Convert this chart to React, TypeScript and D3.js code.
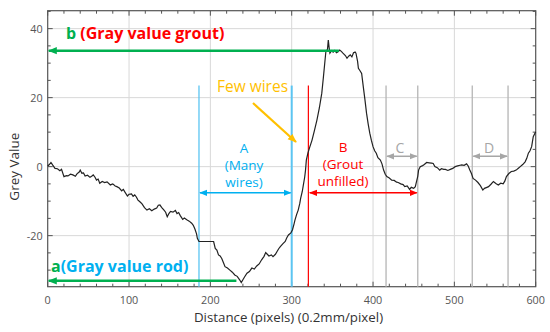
import React from "react";
import * as d3 from "d3";

const profile: [number, number][] = [
  [0,0.2],[2,0.6],[4,1.2],[6,0.5],[9,-0.5],[12,-0.6],[15,-1.2],[17,-0.8],[20,-2.9],[23,-2.6],[25,-2.7],[28,-2.2],[31,-2.4],[34,-2.8],[36,-2.1],[39,-1.5],[40,-1.0],[42,-1.9],[44,-1.8],[46,-2.7],[49,-2.5],[52,-3.1],[54,-2.8],[56,-2.4],[58,-3.0],[60,-3.9],[62,-3.6],[64,-4.8],[67,-4.3],[70,-4.6],[73,-4.4],[77,-5.3],[80,-5.0],[83,-5.6],[85,-5.8],[88,-6.2],[91,-7.0],[93,-6.6],[95,-7.4],[98,-8.5],[100,-8.0],[103,-7.9],[105,-8.6],[107,-8.2],[109,-8.8],[111,-9.7],[113,-10.1],[116,-10.8],[119,-11.9],[122,-12.6],[125,-12.2],[128,-12.8],[131,-12.3],[134,-12.0],[136,-11.2],[138,-11.1],[140,-11.8],[143,-12.6],[145,-13.2],[147,-14.5],[149,-13.6],[151,-13.0],[154,-13.2],[157,-12.7],[159,-13.6],[161,-13.3],[163,-14.2],[166,-15.3],[168,-14.9],[171,-15.4],[174,-15.8],[177,-16.4],[179,-17.0],[181,-18.1],[183,-19.5],[184,-20.8],[186,-21.7],[204,-21.7],[206,-23.7],[208,-24.2],[210,-25.6],[212,-25.9],[214,-26.6],[216,-27.8],[218,-29.0],[221,-29.4],[224,-30.0],[227,-30.6],[230,-31.4],[233,-31.8],[236,-32.8],[238,-33.6],[240,-32.8],[242,-32.0],[245,-30.9],[248,-30.4],[251,-29.4],[254,-29.7],[257,-28.8],[260,-28.2],[263,-27.0],[266,-26.0],[268,-24.9],[270,-25.4],[272,-25.9],[275,-25.6],[277,-26.1],[280,-25.4],[282,-24.6],[284,-23.8],[286,-23.2],[289,-22.4],[292,-21.7],[294,-20.6],[296,-19.8],[299,-19.2],[301,-18.3],[303,-16.5],[304,-15.5],[306,-13.9],[308,-12.6],[310,-10.6],[311,-9.2],[313,-7.2],[314,-5.8],[316,-3.0],[317,-1.0],[318,1.9],[320,4.0],[322,5.5],[325,7.7],[328,10.5],[331,13.5],[334,17.0],[337,21.3],[339,26.0],[341,30.9],[342,33.3],[344,34.0],[345,36.7],[346,34.5],[347,32.9],[349,33.6],[351,33.2],[353,33.7],[355,33.0],[357,33.3],[359,33.8],[361,33.4],[363,32.9],[366,32.2],[368,31.4],[370,32.0],[372,32.4],[374,31.8],[376,33.0],[378,33.2],[379,32.9],[381,30.5],[382,28.5],[384,27.8],[386,27.0],[388,23.2],[390,19.5],[392,15.5],[394,12.4],[396,9.7],[398,7.6],[400,5.8],[402,4.6],[404,3.9],[406,2.6],[409,1.9],[411,0.8],[413,-1.0],[415,-2.2],[417,-2.9],[420,-3.3],[423,-3.9],[426,-4.0],[429,-4.5],[431,-4.6],[434,-5.0],[437,-5.2],[439,-5.8],[442,-5.6],[445,-6.6],[447,-6.0],[450,-6.3],[452,-5.8],[453,-4.8],[455,-2.8],[456,-1.0],[458,0.0],[461,0.3],[463,0.6],[466,1.2],[469,1.1],[472,1.0],[474,0.9],[476,0.0],[479,-0.3],[482,-1.0],[484,-0.6],[487,-0.8],[489,-0.8],[492,-1.1],[495,-0.8],[498,-0.5],[501,0.0],[504,0.2],[507,0.4],[509,0.5],[512,0.4],[515,0.8],[517,0.2],[519,-1.0],[521,-2.0],[523,-3.4],[526,-3.9],[529,-4.6],[532,-5.5],[535,-6.8],[537,-6.3],[540,-6.0],[542,-5.8],[545,-5.1],[548,-4.3],[551,-4.9],[554,-5.3],[557,-4.8],[560,-5.0],[562,-4.2],[564,-2.9],[567,-2.0],[570,-1.4],[573,-1.3],[576,-1.0],[579,-0.4],[581,0.0],[584,0.6],[587,1.4],[589,2.4],[591,3.9],[593,4.6],[595,5.8],[597,8.7],[600,10.1]
];

const xTicks = [0, 100, 200, 300, 400, 500, 600];
const yTicks = [-20, 0, 20, 40];
const xGrid = [100, 200, 300, 400, 500];
const yGrid = [-20, 0, 20, 40];

// region markers (distance values)
const blueLines = [186, 300];
const redLine = 320.5;
const grayLines = [416, 455, 522, 566];
const markerTop = 23.5;

const W = 550, H = 332;
const L = 47.7, R = 535.7, T = 10.7, B = 286.7;

const GREEN = "#00B050";
const RED = "#FF0000";
const BLUE = "#00B0F0";
const ORANGE = "#FFC000";
const GRAY = "#A6A6A6";

export default function App() {
  const x = d3.scaleLinear().domain([0, 600]).range([L, R]);
  const y = d3.scaleLinear().domain([-34.8, 45.2]).range([B, T]);
  const line = d3.line<[number, number]>().x(d => x(d[0])).y(d => y(d[1]));

  const xMinor = d3.range(0, 601, 20);
  const yMinor = d3.range(-30, 46, 5);

  const font = "'Open Sans', sans-serif";
  const afont = "'Open Sans', sans-serif";

  const marker = (id: string, color: string, size = 7) => (
    <marker id={id} viewBox="0 0 10 10" refX="9" refY="5" markerWidth={size} markerHeight={size}
      markerUnits="userSpaceOnUse" orient="auto-start-reverse">
      <path d="M0,1 L10,5 L0,9 Z" fill={color} />
    </marker>
  );

  return (
    <svg width={W} height={H} style={{ position: "absolute", left: 0, top: 0, background: "#fff" }}>
      <defs>
        {marker("mg", GREEN, 9)}
        {marker("mb", BLUE, 8)}
        {marker("mr", RED, 8)}
        {marker("mgr", GRAY, 8)}
        {marker("mo", ORANGE, 9)}
      </defs>
      {/* grid */}
      {xGrid.map(v => (
        <line key={"gx" + v} x1={x(v)} x2={x(v)} y1={T} y2={B} stroke="#d8d8d8" strokeWidth={1} />
      ))}
      {yGrid.map(v => (
        <line key={"gy" + v} x1={L} x2={R} y1={y(v)} y2={y(v)} stroke="#d8d8d8" strokeWidth={1} />
      ))}
      {/* ticks */}
      {xMinor.map(v => {
        const len = v % 100 === 0 ? 5 : 3;
        return (
          <g key={"tx" + v}>
            <line x1={x(v)} x2={x(v)} y1={B} y2={B - len} stroke="#555" />
            <line x1={x(v)} x2={x(v)} y1={T} y2={T + len} stroke="#555" />
          </g>
        );
      })}
      {yMinor.map(v => {
        const len = v % 20 === 0 ? 5 : 3;
        return (
          <g key={"ty" + v}>
            <line x1={L} x2={L + len} y1={y(v)} y2={y(v)} stroke="#555" />
            <line x1={R} x2={R - len} y1={y(v)} y2={y(v)} stroke="#555" />
          </g>
        );
      })}
      <rect x={L} y={T} width={R - L} height={B - T} fill="none" stroke="#555" strokeWidth={1.2} />
      {/* tick labels */}
      {xTicks.map(v => (
        <text key={"lx" + v} x={x(v)} y={B + 17} textAnchor="middle" fontFamily={font} fontSize={10.8} fill="#555">{v}</text>
      ))}
      {yTicks.map(v => (
        <text key={"ly" + v} x={L - 5} y={y(v) + 4} textAnchor="end" fontFamily={font} fontSize={10.8} fill="#555">{v}</text>
      ))}
      <text x={288.5} y={322} textAnchor="middle" fontFamily={font} fontSize={13.3} fill="#333">Distance (pixels) (0.2mm/pixel)</text>
      <text transform={`translate(19,${y(0)}) rotate(-90)`} textAnchor="middle" fontFamily={font} fontSize={13.5} fill="#333">Grey Value</text>

      {/* marker lines */}
      <line x1={x(blueLines[0])} x2={x(blueLines[0])} y1={y(markerTop)} y2={B} stroke="#5BC5F2" strokeWidth={1.3} />
      <line x1={x(blueLines[1])} x2={x(blueLines[1])} y1={y(markerTop)} y2={B} stroke="#5BC5F2" strokeWidth={2} />
      <line x1={x(redLine)} x2={x(redLine)} y1={y(markerTop)} y2={B} stroke={RED} strokeWidth={1.2} />
      {grayLines.map(v => (
        <line key={"gl" + v} x1={x(v)} x2={x(v)} y1={y(markerTop)} y2={B} stroke="#b5b5b5" strokeWidth={1.3} />
      ))}

      {/* profile */}
      <path d={line(profile) || ""} fill="none" stroke="#222" strokeWidth={1.2} />

      {/* green arrows */}
      <line x1={x(358)} x2={x(0) + 1} y1={y(33.6)} y2={y(33.6)} stroke={GREEN} strokeWidth={2.5} markerEnd="url(#mg)" />
      <line x1={x(232)} x2={x(0) + 1} y1={y(-33.1)} y2={y(-33.1)} stroke={GREEN} strokeWidth={2.5} markerEnd="url(#mg)" />

      {/* region arrows */}
      <line x1={x(186) + 1} x2={x(300) - 1} y1={y(-7.6)} y2={y(-7.6)} stroke={BLUE} strokeWidth={1.5} markerStart="url(#mb)" markerEnd="url(#mb)" />
      <line x1={x(321) + 1} x2={x(455) - 1} y1={y(-7.6)} y2={y(-7.6)} stroke={RED} strokeWidth={1.5} markerStart="url(#mr)" markerEnd="url(#mr)" />
      <line x1={x(416) + 1} x2={x(455) - 1} y1={y(3)} y2={y(3)} stroke={GRAY} strokeWidth={1.5} markerStart="url(#mgr)" markerEnd="url(#mgr)" />
      <line x1={x(522) + 1} x2={x(566) - 1} y1={y(3)} y2={y(3)} stroke={GRAY} strokeWidth={1.5} markerStart="url(#mgr)" markerEnd="url(#mgr)" />

      {/* orange arrow */}
      <line x1={253} y1={103} x2={296} y2={142} stroke={ORANGE} strokeWidth={2.2} markerEnd="url(#mo)" />

      {/* annotations */}
      <text x={66} y={39} fontFamily={afont} fontWeight="bold" fontSize={16} fill={GREEN}>b <tspan fill={RED}>(Gray value grout)</tspan></text>
      <text x={51} y={272} fontFamily={afont} fontWeight="bold" fontSize={16} fill={GREEN}>a<tspan fill={BLUE}>(Gray value rod)</tspan></text>
      <text x={252.5} y={92} textAnchor="middle" fontFamily={afont} fontSize={15.5} fill={ORANGE}>Few wires</text>
      <g fontFamily={afont} fontSize={13.5} fill={BLUE} textAnchor="middle">
        <text x={244} y={153}>A</text>
        <text x={244} y={170}>(Many</text>
        <text x={244} y={187}>wires)</text>
      </g>
      <g fontFamily={afont} fontSize={13.5} fill={RED} textAnchor="middle">
        <text x={343} y={152}>B</text>
        <text x={343} y={169}>(Grout</text>
        <text x={343} y={186}>unfilled)</text>
      </g>
      <text x={400} y={153} textAnchor="middle" fontFamily={afont} fontSize={14} fill={GRAY}>C</text>
      <text x={489} y={153} textAnchor="middle" fontFamily={afont} fontSize={14} fill={GRAY}>D</text>
    </svg>
  );
}
